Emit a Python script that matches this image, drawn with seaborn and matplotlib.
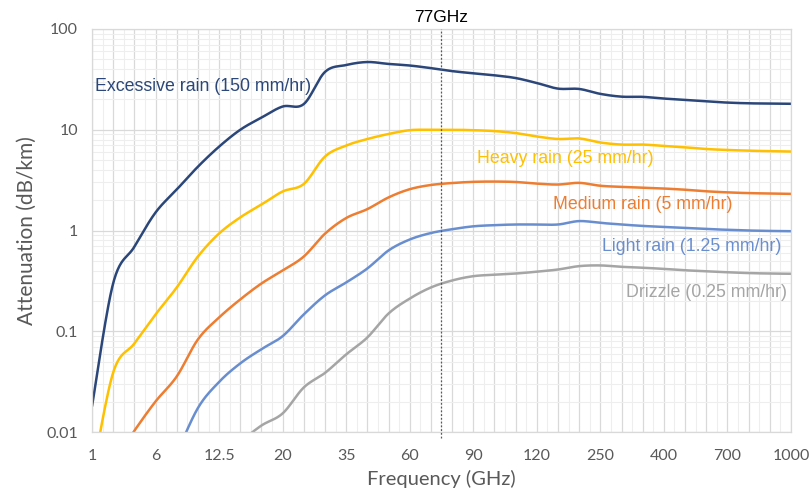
import numpy as np
import pandas as pd
import matplotlib
matplotlib.use("Agg")
import matplotlib.pyplot as plt
import seaborn as sns

# Frequency axis is categorical: one category per step, every third one labelled
tick_labels = ["1", "6", "12.5", "20", "35", "60", "90", "120", "250", "400", "700", "1000"]
n_cat = 34
marker_77ghz = 16.5  # category position of 77 GHz

nan = np.nan
excessive = [0.018, 0.30, 0.69, 1.51, 2.55, 4.3, 6.8, 10.0, 13.2, 17.0, 18.0, 37.5,
             43.9, 47.0, 45.0, 43.4, 40.9, 38.2, 36.3, 34.7, 32.6, 29.1, 25.6, 25.4,
             22.7, 21.3, 21.2, 20.4, 19.8, 19.1, 18.6, 18.3, 18.2, 18.1]
heavy = [0.0036, 0.039, 0.0757, 0.147, 0.272, 0.552, 0.934, 1.35, 1.81, 2.44, 2.9, 5.42,
         6.97, 8.09, 9.08, 9.9, 10.0, 10.0, 9.9, 9.7, 9.27, 8.57, 8.1, 8.2,
         7.47, 7.13, 7.13, 6.9, 6.7, 6.44, 6.3, 6.2, 6.13, 6.08]
medium = [nan, 0.005, 0.0103, 0.0201, 0.0356, 0.083, 0.137, 0.207, 0.298, 0.401, 0.552, 0.93,
          1.33, 1.63, 2.13, 2.57, 2.83, 2.96, 3.04, 3.06, 3.03, 2.92, 2.86, 2.97,
          2.78, 2.71, 2.66, 2.61, 2.54, 2.45, 2.39, 2.35, 2.33, 2.31]
light = [nan, nan, nan, nan, 0.0061, 0.0173, 0.0314, 0.048, 0.0664, 0.0894, 0.147, 0.227,
         0.305, 0.42, 0.634, 0.814, 0.944, 1.03, 1.10, 1.13, 1.147, 1.147, 1.147, 1.24,
         1.19, 1.147, 1.11, 1.085, 1.06, 1.035, 1.016, 1.0, 0.99, 0.984]
drizzle = [nan, nan, nan, nan, nan, nan, nan, 0.008, 0.0116, 0.0153, 0.0277, 0.0386,
           0.0589, 0.0868, 0.150, 0.211, 0.272, 0.319, 0.352, 0.364, 0.374, 0.39, 0.41, 0.443,
           0.45, 0.436, 0.427, 0.416, 0.403, 0.394, 0.385, 0.378, 0.374, 0.372]

series_names = ["Excessive rain (150 mm/hr)", "Heavy rain (25 mm/hr)", "Medium rain (5 mm/hr)",
                "Light rain (1.25 mm/hr)", "Drizzle (0.25 mm/hr)"]
series_values = [excessive, heavy, medium, light, drizzle]
colors = ["#2B4779", "#FFC000", "#ED7D31", "#698ED0", "#A5A5A5"]
label_pos = [(0.14, 26.8), (18.2, 5.18), (21.75, 1.81), (24.1, 0.69), (25.2, 0.243)]


def catmull_rom(x, y, steps=24):
    """Smooth polyline through the points (uniform Catmull-Rom)."""
    pts = np.column_stack([x, y])
    P = np.vstack([pts[0], pts, pts[-1]])
    t = np.linspace(0, 1, steps, endpoint=False)[:, None]
    out = []
    for i in range(len(pts) - 1):
        p0, p1, p2, p3 = P[i], P[i + 1], P[i + 2], P[i + 3]
        seg = 0.5 * (2 * p1 + (-p0 + p2) * t + (2 * p0 - 5 * p1 + 4 * p2 - p3) * t ** 2
                     + (-p0 + 3 * p1 - 3 * p2 + p3) * t ** 3)
        out.append(seg)
    out.append(pts[-1:])
    return np.vstack(out)


frames = []
for name, vals in zip(series_names, series_values):
    v = np.asarray(vals, dtype=float)
    idx = np.arange(n_cat)
    ok = ~np.isnan(v)
    curve = catmull_rom(idx[ok], np.log10(v[ok]))
    frames.append(pd.DataFrame({"pos": curve[:, 0], "att": 10 ** curve[:, 1],
                                "series": name, "order": np.arange(len(curve))}))
df = pd.concat(frames, ignore_index=True)

sns.set_theme(style="white")
plt.rcParams["font.family"] = ["Liberation Sans", "DejaVu Sans"]

fig = plt.figure(figsize=(8.1, 4.94), dpi=100)
ax = fig.add_axes([0.1136, 0.1255, 0.8629, 0.8158])

sns.lineplot(data=df, x="pos", y="att", hue="series", palette=dict(zip(series_names, colors)),
             units="series", estimator=None, sort=False, linewidth=1.8, legend=False, ax=ax)

ax.set_yscale("log")
ax.set_ylim(0.01, 100)
ax.set_xlim(0, n_cat - 1)

# grid: every category and half-category, decades and their subdivisions
ax.set_xticks(np.arange(0, n_cat, 3))
ax.set_xticklabels(tick_labels)
ax.set_yticks([0.01, 0.1, 1, 10, 100])
ax.set_yticklabels(["0.01", "0.1", "1", "10", "100"])
ax.yaxis.set_minor_locator(matplotlib.ticker.LogLocator(base=10, subs=np.arange(2, 10)))
ax.yaxis.set_minor_formatter(matplotlib.ticker.NullFormatter())

for xv in np.arange(0, n_cat):
    ax.axvline(xv, color="#D9D9D9", lw=0.9, zorder=0.5)
for xv in np.arange(0.5, n_cat - 1, 1):
    ax.axvline(xv, color="#EEEEEE", lw=0.8, zorder=0.4)
ax.grid(False)
ax.grid(True, which="major", axis="y", color="#D9D9D9", lw=0.9, zorder=0.5)
ax.grid(True, which="minor", axis="y", color="#EEEEEE", lw=0.8, zorder=0.4)
ax.set_axisbelow(True)

for s in ax.spines.values():
    s.set_color("#D9D9D9")
    s.set_linewidth(0.9)

ax.tick_params(axis="both", which="both", length=0, colors="#595959", labelsize=11.5)
ax.tick_params(axis="x", pad=12)
ax.tick_params(axis="y", pad=10)
for lbl in ax.get_xticklabels() + ax.get_yticklabels():
    lbl.set_family(["Lato", "DejaVu Sans"])

ax.set_xlabel("Frequency (GHz)", fontsize=14.5, color="#595959", family=["Lato", "DejaVu Sans"], labelpad=5)
ax.set_ylabel("Attenuation (dB/km)", fontsize=15, color="#595959", family=["Lato", "DejaVu Sans"], labelpad=7)

# 77 GHz marker
ax.axvline(marker_77ghz, ymin=-0.015, ymax=1, color="#595959", lw=0.9, ls=(0, (1.5, 1.5)),
           clip_on=False, zorder=3)
ax.text(marker_77ghz, 1.028, "77GHz", transform=ax.get_xaxis_transform(), ha="center",
        va="center", fontsize=12.5, color="black")

for (name, col, (lx, ly)) in zip(series_names, colors, label_pos):
    ax.text(lx, ly, name, color=col, fontsize=12.8, ha="left", va="center")

fig.savefig("out.png", dpi=100)
